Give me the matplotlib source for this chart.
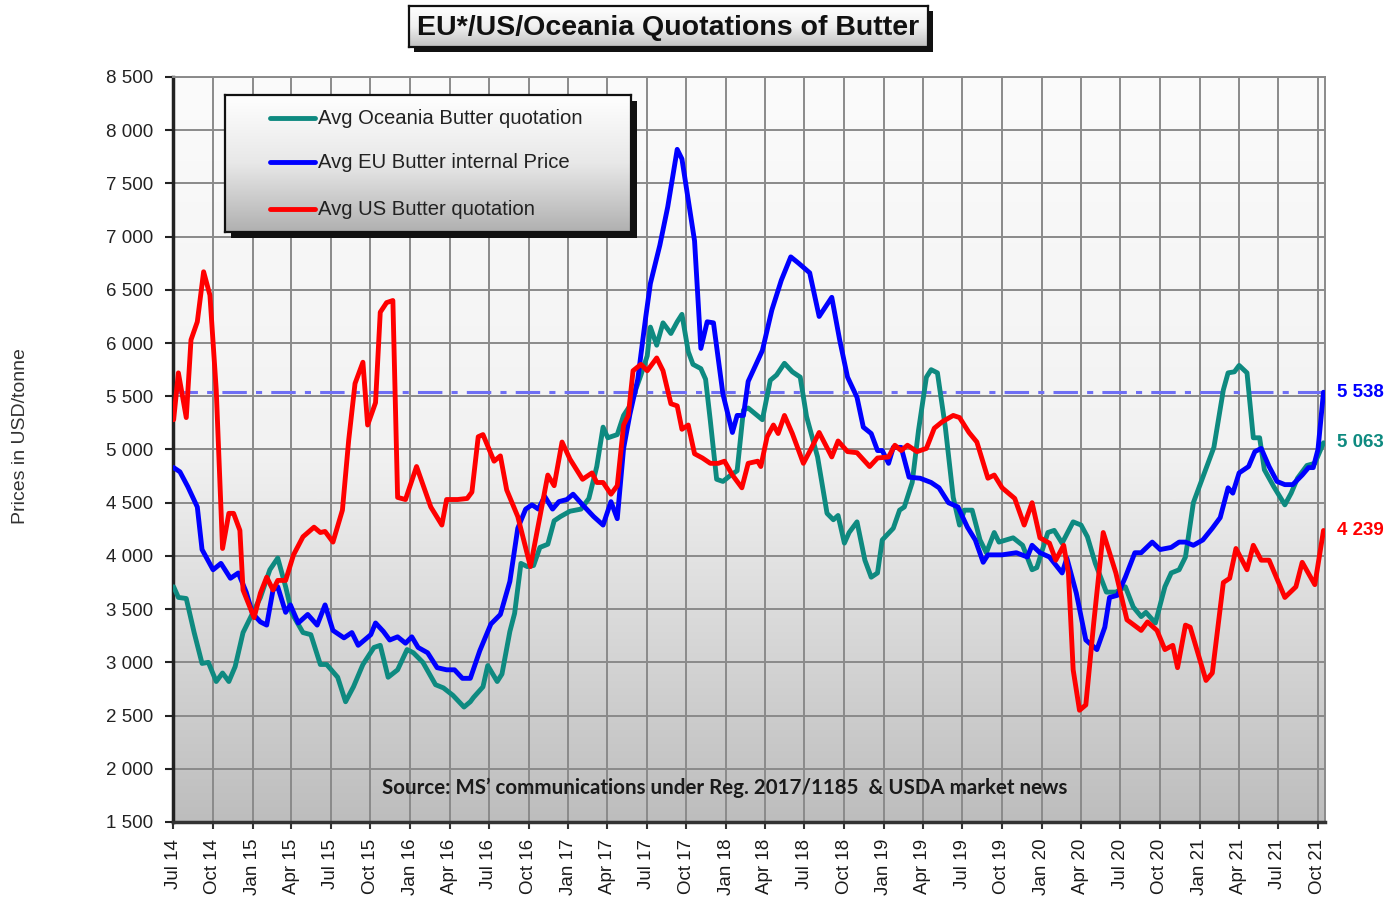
import numpy as np
import matplotlib
matplotlib.use("Agg")
import matplotlib.pyplot as plt
import matplotlib.dates as mdates
import matplotlib.transforms as mtransforms
from matplotlib.patches import Rectangle
from matplotlib.ticker import FuncFormatter, FixedLocator
from matplotlib.colors import LinearSegmentedColormap
from datetime import datetime, timedelta
import pandas as pd

plt.rcParams['font.family'] = ['Liberation Sans', 'DejaVu Sans']

# ---------------- data (time as decimal year, USD/tonne) ----------------
us_t = [2014.50, 2014.53, 2014.58, 2014.61, 2014.65, 2014.69, 2014.73, 2014.77, 2014.81, 2014.85,
        2014.88, 2014.92, 2014.94, 2015.01, 2015.05, 2015.09, 2015.13, 2015.16, 2015.21, 2015.26,
        2015.32, 2015.39, 2015.43, 2015.46, 2015.51, 2015.57, 2015.61, 2015.65, 2015.70, 2015.73,
        2015.78, 2015.81, 2015.85, 2015.89, 2015.92, 2015.97, 2016.04, 2016.13, 2016.20, 2016.23,
        2016.30, 2016.36, 2016.39, 2016.43, 2016.46, 2016.53, 2016.57, 2016.61, 2016.68, 2016.76,
        2016.82, 2016.87, 2016.91, 2016.96, 2017.01, 2017.09, 2017.15, 2017.18, 2017.22, 2017.27,
        2017.31, 2017.35, 2017.38, 2017.41, 2017.46, 2017.50, 2017.56, 2017.60, 2017.65, 2017.69,
        2017.72, 2017.76, 2017.80, 2017.85, 2017.90, 2017.95, 2017.99, 2018.04, 2018.10, 2018.14,
        2018.20, 2018.22, 2018.26, 2018.30, 2018.33, 2018.37, 2018.42, 2018.49, 2018.54, 2018.59,
        2018.67, 2018.71, 2018.77, 2018.83, 2018.91, 2018.96, 2019.03, 2019.07, 2019.11, 2019.15,
        2019.21, 2019.27, 2019.32, 2019.37, 2019.44, 2019.48, 2019.54, 2019.59, 2019.66, 2019.70,
        2019.75, 2019.83, 2019.89, 2019.94, 2019.99, 2020.05, 2020.09, 2020.14, 2020.17, 2020.20,
        2020.24, 2020.28, 2020.33, 2020.39, 2020.47, 2020.54, 2020.63, 2020.67, 2020.73, 2020.78,
        2020.83, 2020.86, 2020.91, 2020.94, 2021.04, 2021.08, 2021.15, 2021.19, 2021.23, 2021.30,
        2021.34, 2021.39, 2021.44, 2021.54, 2021.61, 2021.65, 2021.73, 2021.785]
us_v = [5280, 5720, 5300, 6030, 6200, 6670, 6450, 5560, 4070, 4400,
        4400, 4240, 3680, 3420, 3650, 3800, 3680, 3770, 3770, 4010,
        4180, 4270, 4220, 4230, 4130, 4430, 5090, 5620, 5820, 5230,
        5440, 6290, 6380, 6400, 4550, 4530, 4840, 4460, 4290, 4530,
        4530, 4540, 4600, 5120, 5140, 4890, 4940, 4620, 4370, 3900,
        4370, 4760, 4660, 5070, 4910, 4720, 4780, 4690, 4690, 4580,
        4660, 5230, 5320, 5740, 5800, 5740, 5860, 5740, 5430, 5410,
        5190, 5230, 4960, 4920, 4870, 4870, 4890, 4760, 4640, 4870,
        4890, 4840, 5120, 5230, 5150, 5320, 5150, 4870, 5010, 5160,
        4930, 5080, 4980, 4970, 4840, 4920, 4930, 5040, 4990, 5040,
        4980, 5010, 5200, 5260, 5320, 5300, 5160, 5070, 4730, 4760,
        4640, 4540, 4290, 4500, 4170, 4120, 3960, 4100, 3840, 2930,
        2550, 2600, 3370, 4220, 3840, 3400, 3300, 3380, 3300, 3120,
        3160, 2950, 3350, 3330, 2830, 2900, 3750, 3790, 4070, 3870,
        4100, 3960, 3960, 3610, 3710, 3940, 3730, 4239]

eu_t = [2014.50, 2014.54, 2014.59, 2014.65, 2014.68, 2014.75, 2014.80, 2014.86, 2014.91, 2014.96,
        2015.00, 2015.05, 2015.09, 2015.13, 2015.16, 2015.21, 2015.24, 2015.29, 2015.35, 2015.41,
        2015.46, 2015.51, 2015.58, 2015.63, 2015.67, 2015.75, 2015.78, 2015.83, 2015.87, 2015.92,
        2015.97, 2016.01, 2016.05, 2016.11, 2016.17, 2016.23, 2016.28, 2016.33, 2016.38, 2016.44,
        2016.51, 2016.57, 2016.63, 2016.68, 2016.73, 2016.77, 2016.81, 2016.85, 2016.90, 2016.94,
        2016.99, 2017.03, 2017.09, 2017.16, 2017.22, 2017.27, 2017.31, 2017.35, 2017.39, 2017.44,
        2017.49, 2017.52, 2017.58, 2017.63, 2017.69, 2017.72, 2017.77, 2017.80, 2017.84, 2017.88,
        2017.92, 2017.98, 2018.04, 2018.07, 2018.11, 2018.14, 2018.18, 2018.23, 2018.29, 2018.35,
        2018.41, 2018.46, 2018.53, 2018.59, 2018.67, 2018.72, 2018.77, 2018.83, 2018.87, 2018.92,
        2018.96, 2018.99, 2019.03, 2019.06, 2019.11, 2019.16, 2019.23, 2019.30, 2019.35, 2019.41,
        2019.47, 2019.53, 2019.58, 2019.63, 2019.66, 2019.75, 2019.84, 2019.91, 2019.94, 2019.99,
        2020.05, 2020.13, 2020.16, 2020.22, 2020.28, 2020.35, 2020.40, 2020.43, 2020.48, 2020.53,
        2020.59, 2020.63, 2020.70, 2020.75, 2020.82, 2020.87, 2020.91, 2020.96, 2021.02, 2021.08,
        2021.13, 2021.18, 2021.21, 2021.25, 2021.31, 2021.35, 2021.39, 2021.44, 2021.49, 2021.54,
        2021.59, 2021.65, 2021.69, 2021.72, 2021.75, 2021.785]
eu_v = [4830, 4790, 4650, 4460, 4060, 3870, 3930, 3790, 3840, 3660,
        3460, 3380, 3350, 3680, 3710, 3470, 3540, 3370, 3450, 3350,
        3540, 3300, 3230, 3280, 3160, 3260, 3370, 3290, 3210, 3240,
        3180, 3240, 3140, 3090, 2950, 2930, 2930, 2850, 2850, 3110,
        3360, 3450, 3760, 4260, 4440, 4480, 4440, 4560, 4440, 4510,
        4530, 4580, 4480, 4370, 4290, 4510, 4350, 5010, 5330, 5660,
        6240, 6560, 6920, 7280, 7820, 7730, 7250, 6960, 5950, 6200,
        6190, 5520, 5160, 5320, 5320, 5640, 5770, 5930, 6310, 6590,
        6810, 6750, 6660, 6250, 6430, 6030, 5680, 5490, 5210, 5150,
        4990, 4990, 4870, 5020, 5020, 4740, 4730, 4690, 4640, 4500,
        4460, 4270, 4150, 3940, 4010, 4010, 4030, 3990, 4100, 4030,
        3990, 3840, 3980, 3650, 3210, 3120, 3330, 3610, 3630, 3800,
        4030, 4030, 4130, 4060, 4080, 4130, 4130, 4100, 4150, 4260,
        4360, 4640, 4590, 4780, 4840, 4980, 5010, 4840, 4700, 4670,
        4670, 4760, 4830, 4830, 5000, 5538]

oce_t = [2014.50, 2014.53, 2014.58, 2014.63, 2014.68, 2014.72, 2014.77, 2014.81, 2014.85, 2014.89,
         2014.94, 2015.00, 2015.05, 2015.11, 2015.16, 2015.21, 2015.25, 2015.32, 2015.37, 2015.43,
         2015.47, 2015.54, 2015.59, 2015.64, 2015.70, 2015.77, 2015.81, 2015.86, 2015.92, 2015.98,
         2016.02, 2016.08, 2016.16, 2016.21, 2016.27, 2016.34, 2016.38, 2016.40, 2016.46, 2016.49,
         2016.55, 2016.58, 2016.63, 2016.66, 2016.70, 2016.74, 2016.78, 2016.82, 2016.87, 2016.91,
         2016.95, 2017.01, 2017.08, 2017.13, 2017.18, 2017.22, 2017.25, 2017.31, 2017.35, 2017.39,
         2017.46, 2017.50, 2017.52, 2017.56, 2017.60, 2017.65, 2017.69, 2017.72, 2017.76, 2017.79,
         2017.84, 2017.87, 2017.90, 2017.94, 2017.98, 2018.03, 2018.07, 2018.11, 2018.14, 2018.23,
         2018.28, 2018.32, 2018.37, 2018.42, 2018.47, 2018.51, 2018.58, 2018.64, 2018.68, 2018.71,
         2018.75, 2018.78, 2018.83, 2018.88, 2018.92, 2018.96, 2018.99, 2019.06, 2019.10, 2019.13,
         2019.18, 2019.22, 2019.27, 2019.30, 2019.34, 2019.39, 2019.44, 2019.48, 2019.51, 2019.56,
         2019.61, 2019.65, 2019.70, 2019.73, 2019.82, 2019.88, 2019.94, 2019.97, 2020.04, 2020.08,
         2020.13, 2020.20, 2020.25, 2020.29, 2020.34, 2020.41, 2020.47, 2020.53, 2020.58, 2020.63,
         2020.66, 2020.72, 2020.78, 2020.82, 2020.87, 2020.91, 2020.96, 2021.03, 2021.09, 2021.15,
         2021.18, 2021.22, 2021.25, 2021.30, 2021.34, 2021.38, 2021.41, 2021.47, 2021.54, 2021.58,
         2021.62, 2021.68, 2021.73, 2021.785]
oce_v = [3710, 3610, 3600, 3280, 2990, 3000, 2820, 2900, 2820, 2960,
         3280, 3460, 3610, 3870, 3980, 3710, 3460, 3280, 3260, 2980,
         2980, 2860, 2630, 2770, 2980, 3140, 3160, 2860, 2930, 3120,
         3090, 3000, 2790, 2760, 2690, 2580, 2630, 2670, 2770, 2970,
         2820, 2890, 3290, 3460, 3930, 3900, 3910, 4080, 4110, 4330,
         4370, 4420, 4440, 4540, 4840, 5210, 5110, 5140, 5320, 5410,
         5700, 5880, 6150, 5980, 6190, 6090, 6200, 6270, 5920, 5800,
         5760, 5660, 5270, 4720, 4700, 4760, 4800, 5370, 5390, 5280,
         5650, 5700, 5810, 5730, 5680, 5310, 4930, 4400, 4340, 4380,
         4120, 4220, 4320, 3960, 3800, 3840, 4150, 4260, 4430, 4460,
         4690, 5180, 5680, 5750, 5720, 5210, 4550, 4290, 4430, 4430,
         4150, 4030, 4220, 4130, 4170, 4100, 3870, 3890, 4220, 4240,
         4120, 4320, 4290, 4180, 3930, 3660, 3660, 3710, 3520, 3430,
         3470, 3370, 3710, 3840, 3870, 3990, 4500, 4780, 5020, 5560,
         5720, 5730, 5790, 5720, 5110, 5110, 4810, 4650, 4480, 4590,
         4730, 4850, 4870, 5063]

series_names = ["Avg Oceania Butter quotation", "Avg EU Butter internal Price", "Avg US Butter quotation"]
series_colors = ["#0e8a80", "#0000ff", "#ff0000"]
last_values = [5063, 5538, 4239]
y_ticks = list(range(1500, 8501, 500))
title_text = "EU*/US/Oceania Quotations of Butter"
ylabel_text = "Prices in USD/tonne"
source_text = "Source: MS\u2019 communications under Reg. 2017/1185  & USDA market news"


def to_date(t):
    y = int(t)
    start = datetime(y, 1, 1)
    ndays = (datetime(y + 1, 1, 1) - start).days
    return start + timedelta(days=(t - y) * ndays)


W, H = 1393, 898
fig = plt.figure(figsize=(W / 100, H / 100), dpi=100)
fig.patch.set_facecolor("white")


def fx(px):
    return px / W


def fy(py):
    return 1 - py / H


ax_l, ax_r, ax_t, ax_b = 173, 1325, 77, 822
ax = fig.add_axes([fx(ax_l), fy(ax_b), fx(ax_r) - fx(ax_l), fy(ax_t) - fy(ax_b)])

# background gradient (row 0 = top)
grad = np.linspace(0, 1, 256).reshape(-1, 1)
bg_cmap = LinearSegmentedColormap.from_list("bg", ["#fbfbfb", "#f2f2f2", "#bdbdbd"])
ax.imshow(grad, cmap=bg_cmap, extent=[0, 1, 0, 1], transform=ax.transAxes, origin="upper",
          aspect="auto", zorder=-2, interpolation="bicubic")

# series
for t_arr, v_arr, name, col in [(oce_t, oce_v, series_names[0], series_colors[0]),
                                (eu_t, eu_v, series_names[1], series_colors[1]),
                                (us_t, us_v, series_names[2], series_colors[2])]:
    ax.plot([to_date(t) for t in t_arr], v_arr, color=col, lw=3.5, solid_joinstyle="round",
            solid_capstyle="round", zorder=3, label=name)

# reference line at the last EU value
ax.axhline(last_values[1], color="#6f6ff5", lw=2.2, ls=(0, (8, 3, 2, 3)), zorder=2.5)

x_left = datetime(2014, 7, 1)
x_right = datetime(2021, 10, 18)
ax.set_xlim(x_left, x_right)
ax.set_ylim(1500, 8500)

quarters = pd.date_range("2014-07-01", "2021-10-01", freq="QS")
ax.xaxis.set_major_locator(FixedLocator(mdates.date2num(list(quarters.to_pydatetime()))))
ax.set_xticklabels([d.strftime("%b %y") for d in quarters], rotation=90,
                   fontsize=13.5, color="#1a1a1a")
ax.set_yticks(y_ticks)
ax.yaxis.set_major_formatter(FuncFormatter(lambda v, p: f"{int(v):,}".replace(",", " ")))
for lab in ax.get_yticklabels():
    lab.set_fontsize(13.5)
    lab.set_color("#222222")

ax.grid(True, color="#8a8a8a", lw=1.4, zorder=0.5)
ax.set_axisbelow(True)
ax.tick_params(axis="y", direction="out", length=6, width=1.5, color="#222222", pad=8)
ax.tick_params(axis="x", direction="out", length=5, width=1.5, color="#333333", pad=7)

for side in ["top", "right"]:
    ax.spines[side].set_color("#8a8a8a")
    ax.spines[side].set_linewidth(1.4)
ax.spines["left"].set_color("#222222")
ax.spines["left"].set_linewidth(2.5)
ax.spines["bottom"].set_color("#333333")
ax.spines["bottom"].set_linewidth(2.5)

fig.text(fx(21), fy(436), ylabel_text, rotation=90, ha="center", va="center",
         fontsize=14, color="#333333")

# end value labels
blend = mtransforms.blended_transform_factory(ax.transAxes, ax.transData)
for val, col in zip(last_values, series_colors):
    ax.text(1 + 12 / (ax_r - ax_l), val, f"{val:,}".replace(",", " "), transform=blend,
            color=col, fontsize=13.5, fontweight="bold", ha="left", va="center", clip_on=False)

# source note
ax.text((725 - ax_l) / (ax_r - ax_l), (ax_b - 788) / (ax_b - ax_t), source_text,
        transform=ax.transAxes, ha="center", va="center", fontsize=14.8, fontweight="bold",
        family=["Lato", "DejaVu Sans"], color="#1a1a1a", zorder=4)

# ---------------- title box ----------------
tb_l, tb_r, tb_t, tb_b = 409, 928, 6, 47
fig.patches.append(Rectangle((fx(tb_l + 5), fy(tb_b + 5)), fx(tb_r) - fx(tb_l), fy(tb_t) - fy(tb_b),
                             transform=fig.transFigure, facecolor="#111111", edgecolor="none", zorder=1))
tax = fig.add_axes([fx(tb_l), fy(tb_b), fx(tb_r) - fx(tb_l), fy(tb_t) - fy(tb_b)], zorder=5)
t_cmap = LinearSegmentedColormap.from_list("tb", ["#ffffff", "#f0f0f0", "#c0c0c0"])
tax.imshow(grad, cmap=t_cmap, extent=[0, 1, 0, 1], origin="upper", aspect="auto",
           interpolation="bicubic")
tax.set_xlim(0, 1)
tax.set_ylim(0, 1)
tax.set_xticks([])
tax.set_yticks([])
for s in tax.spines.values():
    s.set_color("#111111")
    s.set_linewidth(1.6)
tax.text(0.5, 0.47, title_text, ha="center", va="center", fontsize=20.5, fontweight="bold",
         color="#111111")

# ---------------- legend box ----------------
lg_l, lg_r, lg_t, lg_b = 225, 631, 95, 232
fig.patches.append(Rectangle((fx(lg_l + 6), fy(lg_b + 6)), fx(lg_r) - fx(lg_l), fy(lg_t) - fy(lg_b),
                             transform=fig.transFigure, facecolor="#111111", edgecolor="none", zorder=4))
lax = fig.add_axes([fx(lg_l), fy(lg_b), fx(lg_r) - fx(lg_l), fy(lg_t) - fy(lg_b)], zorder=6)
l_cmap = LinearSegmentedColormap.from_list("lg", ["#ffffff", "#e8e8e8", "#b0b0b0"])
lax.imshow(grad, cmap=l_cmap, extent=[0, 1, 0, 1], origin="upper", aspect="auto",
           interpolation="bicubic")
lax.set_xlim(0, 1)
lax.set_ylim(0, 1)
lax.set_xticks([])
lax.set_yticks([])
for s in lax.spines.values():
    s.set_color("#111111")
    s.set_linewidth(1.6)
handles, labels = ax.get_legend_handles_labels()
leg_y_px = [118, 162, 209]
for h, lab, ypx in zip(handles, labels, leg_y_px):
    yy = (lg_b - ypx) / (lg_b - lg_t)
    x0 = (270 - lg_l) / (lg_r - lg_l)
    x1 = (315 - lg_l) / (lg_r - lg_l)
    lax.plot([x0, x1], [yy, yy], color=h.get_color(), lw=3.5, solid_capstyle="round")
    lax.text((318 - lg_l) / (lg_r - lg_l), yy, lab, ha="left", va="center", fontsize=14.6,
             color="#222222")

fig.savefig("out.png", dpi=100, facecolor="white")
